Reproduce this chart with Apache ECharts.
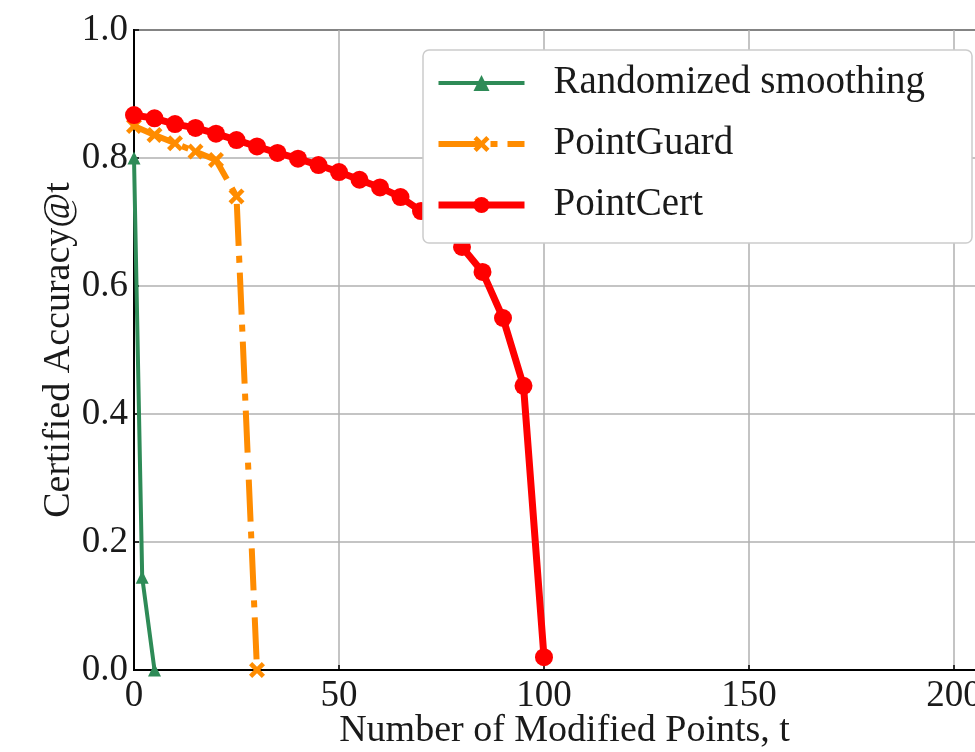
<!DOCTYPE html>
<html>
<head>
<meta charset="utf-8">
<script src="https://cdn.jsdelivr.net/npm/echarts@6/dist/echarts.min.js"></script>
<style>
  html, body { margin: 0; padding: 0; background: #fff; }
  #chart { width: 975px; height: 752px; }
</style>
</head>
<body>
<div id="chart"></div>
<script>
// Certified accuracy at t modified points, per method
const xTicks = [0, 50, 100, 150, 200];
const yTicks = [0.0, 0.2, 0.4, 0.6, 0.8, 1.0];

const smoothingT = [0, 2, 5];
const smoothingAcc = [0.80, 0.145, 0.0];

const pointGuardT = [0, 5, 10, 15, 20, 25, 30];
const pointGuardAcc = [0.85, 0.836, 0.823, 0.81, 0.797, 0.74, 0.0];

const pointCertT = [0, 5, 10, 15, 20, 25, 30, 35, 40, 45, 50, 55, 60, 65, 70, 75, 80, 85, 90, 95, 100];
const pointCertAcc = [0.867, 0.862, 0.853, 0.847, 0.838, 0.828, 0.818, 0.808, 0.799, 0.789, 0.778,
                      0.766, 0.754, 0.739, 0.717, 0.695, 0.661, 0.622, 0.55, 0.444, 0.02];

const seriesNames = ['Randomized smoothing', 'PointGuard', 'PointCert'];

const pairs = (xs, ys) => xs.map((x, i) => [x, ys[i]]);

const FONT = '"Liberation Serif", "DejaVu Serif", serif';
const TEXT = '#1a1a1a';
const GREEN = '#2e8b57', ORANGE = '#ff8c00', RED = '#ff0000';
const crossPath = 'path://M2,0 L5,3 L8,0 L10,2 L7,5 L10,8 L8,10 L5,7 L2,10 L0,8 L3,5 L0,2 Z';
const orangeDash = [42, 10, 7, 10];

const chart = echarts.init(document.getElementById('chart'), null, { renderer: 'canvas' });

chart.setOption({
  animation: false,
  backgroundColor: '#fff',
  grid: {
    left: 134, top: 30, width: 861, height: 640,
    outerBoundsMode: 'none',
    show: true, borderColor: '#000', borderWidth: 2, backgroundColor: 'transparent'
  },
  xAxis: {
    type: 'value', min: 0, max: 210, interval: 50,
    name: 'Number of Modified Points, t',
    nameLocation: 'middle', nameGap: 42, nameMoveOverlap: false,
    nameTextStyle: { fontFamily: FONT, fontSize: 38, color: TEXT },
    axisLine: { show: true, lineStyle: { color: '#000', width: 2 } },
    axisTick: { show: true, inside: true, length: 5, lineStyle: { color: '#000', width: 1.5 } },
    axisLabel: {
      fontFamily: FONT, fontSize: 37, color: TEXT, margin: 8,
      showMaxLabel: false,
      formatter: v => (xTicks.includes(v) ? String(v) : '')
    },
    splitLine: { show: true, lineStyle: { color: '#b0b0b0', width: 1.5 } }
  },
  yAxis: {
    type: 'value', min: 0, max: 1, interval: 0.2,
    name: 'Certified Accuracy@t',
    nameLocation: 'middle', nameGap: 56, nameMoveOverlap: false,
    nameTextStyle: { fontFamily: FONT, fontSize: 38, color: TEXT },
    axisLine: { show: true, lineStyle: { color: '#000', width: 2 } },
    axisTick: { show: true, inside: true, length: 5, lineStyle: { color: '#000', width: 1.5 } },
    axisLabel: {
      fontFamily: FONT, fontSize: 37, color: TEXT, margin: 6,
      formatter: v => yTicks.find(t => Math.abs(t - v) < 1e-9).toFixed(1)
    },
    splitLine: { show: true, lineStyle: { color: '#b0b0b0', width: 1.5 } }
  },
  legend: {
    orient: 'vertical', left: 435, top: 63, z: 30,
    data: [
      { name: seriesNames[0], lineStyle: { width: 4, color: GREEN } },
      { name: seriesNames[1], lineStyle: { width: 6, color: ORANGE, type: orangeDash, cap: 'butt' } },
      { name: seriesNames[2], lineStyle: { width: 7, color: RED } }
    ],
    itemWidth: 86, itemHeight: 20, itemGap: 21,
    padding: 0,
    textStyle: { fontFamily: FONT, fontSize: 39, color: TEXT, lineHeight: 40, padding: [0, 0, 0, 24] }
  },
  graphic: [{
    type: 'rect', z: 20,
    shape: { x: 423, y: 50, width: 549, height: 193, r: 6 },
    style: { fill: '#ffffff', stroke: '#cccccc', lineWidth: 1.5 }
  }],
  series: [
    {
      name: seriesNames[0], type: 'line', data: pairs(smoothingT, smoothingAcc),
      color: GREEN, symbol: 'triangle', symbolSize: 13, showAllSymbol: true,
      lineStyle: { width: 4, color: GREEN }, itemStyle: { color: GREEN },
      clip: false, z: 3
    },
    {
      name: seriesNames[1], type: 'line', data: pairs(pointGuardT, pointGuardAcc),
      color: ORANGE, symbol: crossPath, symbolSize: 16, showAllSymbol: true,
      lineStyle: { width: 6, color: ORANGE, type: orangeDash, cap: 'butt' },
      itemStyle: { color: ORANGE },
      clip: false, z: 4
    },
    {
      name: seriesNames[2], type: 'line', data: pairs(pointCertT, pointCertAcc),
      color: RED, symbol: 'circle', symbolSize: 18, showAllSymbol: true,
      lineStyle: { width: 7, color: RED }, itemStyle: { color: RED },
      clip: false, z: 5
    }
  ]
});
</script>
</body>
</html>
